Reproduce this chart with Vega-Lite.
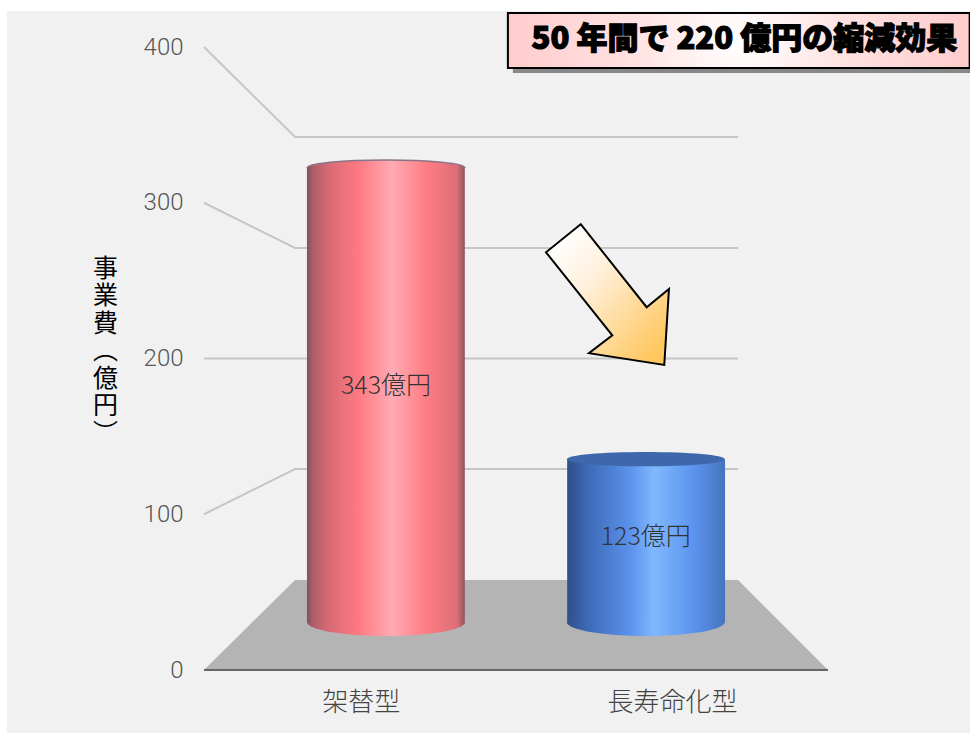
{
  "$schema": "https://vega.github.io/schema/vega-lite/v6.json",
  "width": 624,
  "height": 623,
  "autosize": "none",
  "padding": {"left": 204, "right": 142, "top": 47, "bottom": 63},
  "background": "white",
  "config": {"view": {"stroke": null}, "text": {"font": "Noto Sans CJK JP"}},
  "datasets": {
    "cylinders": [
      {"type": "架替型", "value": 343, "label": "343億円", "center": 29.17, "left": 16.5, "right": 41.8, "labelAt": 178, "axisPos": 25.2},
      {"type": "長寿命化型", "value": 123, "label": "123億円", "center": 70.8, "left": 58.2, "right": 83.5, "labelAt": 64, "axisPos": 75.1}
    ],
    "wallLines": [
      {"tick": 400, "depth": 0, "level": 400},
      {"tick": 400, "depth": 14.6, "level": 342.2},
      {"tick": 400, "depth": 85.6, "level": 342.2},
      {"tick": 300, "depth": 0, "level": 300},
      {"tick": 300, "depth": 14.6, "level": 271},
      {"tick": 300, "depth": 85.6, "level": 271},
      {"tick": 200, "depth": 0, "level": 200},
      {"tick": 200, "depth": 85.6, "level": 200},
      {"tick": 100, "depth": 0, "level": 100},
      {"tick": 100, "depth": 14.6, "level": 129},
      {"tick": 100, "depth": 85.6, "level": 129}
    ],
    "floor": [
      {"depth": 0, "level": 0},
      {"depth": 14.6, "level": 57.8},
      {"depth": 85.6, "level": 57.8},
      {"depth": 100, "level": 0}
    ]
  },
  "resolve": {"scale": {"y": "independent"}},
  "layer": [
    {
      "layer": [
        {
          "description": "Grey panel behind the chart, carrying the value axis",
          "data": {"values": [{}]},
          "mark": {"type": "rect", "fill": "#f1f1f1"},
          "encoding": {
            "x": {"datum": -31.6, "type": "quantitative", "scale": {"domain": [0, 100], "nice": false, "zero": false}, "axis": null},
            "x2": {"datum": 122.8},
            "y": {
              "datum": 423.1,
              "type": "quantitative",
              "scale": {"domain": [0, 400], "nice": false, "zero": false},
              "axis": {
                "zindex": 1,
                "values": [0, 100, 200, 300, 400],
                "domain": false,
                "ticks": false,
                "grid": false,
                "labelFont": "Roboto",
                "labelFontWeight": 300,
                "labelFontSize": 24,
                "labelColor": "#555555",
                "labelPadding": 21,
                "labelBaseline": "middle",
                "title": ["事", "業", "費", "︵", "億", "円", "︶"],
                "titleFont": "Noto Sans CJK JP",
                "titleFontSize": 25,
                "titleFontWeight": "normal",
                "titleColor": "#000000",
                "titleAngle": 0,
                "titleLineHeight": 27.5,
                "titleAlign": "center",
                "titleBaseline": "top",
                "titleX": -99,
                "titleY": 209
              }
            },
            "y2": {"datum": -40.45}
          }
        },
        {
          "description": "Floor of the 3D stage",
          "data": {"name": "floor"},
          "mark": {"type": "area", "fill": "#b4b4b4", "opacity": 1},
          "encoding": {
            "x": {"field": "depth", "type": "quantitative"},
            "y": {"field": "level", "type": "quantitative"},
            "y2": {"datum": 0}
          }
        },
        {
          "description": "Front edge of the floor",
          "data": {"values": [{}]},
          "mark": {"type": "rule", "stroke": "#666666", "strokeWidth": 2},
          "encoding": {
            "x": {"datum": 0, "type": "quantitative"},
            "x2": {"datum": 100},
            "y": {"datum": 0, "type": "quantitative"}
          }
        },
        {
          "description": "Grid lines running over the side and back walls",
          "data": {"name": "wallLines"},
          "mark": {"type": "line", "stroke": "#c6c6c6", "strokeWidth": 2},
          "encoding": {
            "x": {"field": "depth", "type": "quantitative"},
            "y": {"field": "level", "type": "quantitative"},
            "detail": {"field": "tick"}
          }
        },
        {
          "description": "Category names under the floor",
          "data": {"name": "cylinders"},
          "mark": {"type": "text", "fontSize": 26, "fontWeight": 300, "fill": "#444444", "baseline": "middle"},
          "encoding": {
            "x": {"field": "axisPos", "type": "quantitative"},
            "y": {"datum": -21.2, "type": "quantitative"},
            "text": {"field": "type"}
          }
        },
        {
          "description": "Callout shadow",
          "data": {"values": [{}]},
          "mark": {"type": "rect", "fill": "#888888"},
          "encoding": {
            "x": {"datum": 49.5, "type": "quantitative"},
            "x2": {"datum": 123},
            "y": {"datum": 418, "type": "quantitative"},
            "y2": {"datum": 383.3}
          }
        },
        {
          "description": "Callout box",
          "data": {"values": [{}]},
          "mark": {
            "type": "rect",
            "stroke": "#000000",
            "strokeWidth": 2,
            "fill": {
              "gradient": "radial",
              "x1": 0.5, "y1": 0.5, "x2": 0.5, "y2": 0.5, "r1": 0, "r2": 0.5,
              "stops": [
                {"offset": 0, "color": "#ffffff"},
                {"offset": 0.5, "color": "#ffe0e0"},
                {"offset": 1, "color": "#ffcccc"}
              ]
            }
          },
          "encoding": {
            "x": {"datum": 48.7, "type": "quantitative"},
            "x2": {"datum": 122.7},
            "y": {"datum": 421.8, "type": "quantitative"},
            "y2": {"datum": 386.5}
          }
        },
        {
          "description": "Callout text",
          "data": {"values": [{"note": "50 年間で 220 億円の縮減効果"}]},
          "mark": {"type": "text", "fontSize": 31, "fontWeight": 900, "fill": "#000000", "stroke": "#000000", "strokeWidth": 1.2, "baseline": "middle"},
          "encoding": {
            "x": {"datum": 86.6, "type": "quantitative"},
            "y": {"datum": 404.5, "type": "quantitative"},
            "text": {"field": "note"}
          }
        },
        {
          "description": "Arrow pointing down towards the smaller cylinder",
          "data": {"values": [{}]},
          "mark": {
            "type": "point",
            "shape": "M-0.377,-0.996 L-0.866,-0.601 L0.068,0.568 L-0.261,0.821 L0.8,0.986 L0.866,-0.085 L0.552,0.173 Z",
            "size": 20164,
            "filled": true,
            "opacity": 1,
            "stroke": "#000000",
            "strokeWidth": 2,
            "fill": {
              "gradient": "linear",
              "x1": 0.1, "y1": 0.1, "x2": 0.9, "y2": 0.9,
              "stops": [
                {"offset": 0, "color": "#ffffff"},
                {"offset": 0.35, "color": "#fff0dc"},
                {"offset": 1, "color": "#ffc75f"}
              ]
            }
          },
          "encoding": {
            "x": {"datum": 64.66, "type": "quantitative"},
            "y": {"datum": 240.8, "type": "quantitative"}
          }
        }
      ]
    },
    {
      "data": {"name": "cylinders"},
      "layer": [
        {
          "description": "Red cylinder: base, body and cap share one horizontal shading",
          "transform": [{"filter": "datum.value > 200"}],
          "layer": [
            {
              "mark": {
                "type": "point",
                "shape": "M-1,0 C-1,0.098 -0.552,0.177 0,0.177 C0.552,0.177 1,0.098 1,0 L-1,0 Z",
                "size": 24964,
                "filled": true,
                "opacity": 1,
                "fill": {
                  "gradient": "linear", "x1": 0, "y1": 0, "x2": 1, "y2": 0,
                  "stops": [
                    {"offset": 0, "color": "#84505f"},
                    {"offset": 0.04, "color": "#b05e6a"},
                    {"offset": 0.14, "color": "#d96a75"},
                    {"offset": 0.33, "color": "#ff7a82"},
                    {"offset": 0.54, "color": "#ffabb4"},
                    {"offset": 0.75, "color": "#ff7d85"},
                    {"offset": 0.95, "color": "#dd6e76"},
                    {"offset": 1, "color": "#8e5660"}
                  ]
                }
              },
              "encoding": {
                "x": {"field": "center", "type": "quantitative"},
                "y": {"datum": 0, "type": "quantitative", "scale": {"domain": [-36.25, 434.3], "nice": false, "zero": false}, "axis": null}
              }
            },
            {
              "mark": {
                "type": "rect",
                "fill": {
                  "gradient": "linear", "x1": 0, "y1": 0, "x2": 1, "y2": 0,
                  "stops": [
                    {"offset": 0, "color": "#84505f"},
                    {"offset": 0.04, "color": "#b05e6a"},
                    {"offset": 0.14, "color": "#d96a75"},
                    {"offset": 0.33, "color": "#ff7a82"},
                    {"offset": 0.54, "color": "#ffabb4"},
                    {"offset": 0.75, "color": "#ff7d85"},
                    {"offset": 0.95, "color": "#dd6e76"},
                    {"offset": 1, "color": "#8e5660"}
                  ]
                }
              },
              "encoding": {
                "x": {"field": "left", "type": "quantitative"},
                "x2": {"field": "right"},
                "y": {"field": "value", "type": "quantitative"},
                "y2": {"datum": 0}
              }
            },
            {
              "mark": {
                "type": "point",
                "shape": "M-1,0 C-1,-0.056 -0.552,-0.101 0,-0.101 C0.552,-0.101 1,-0.056 1,0 L-1,0 Z",
                "size": 24964,
                "filled": true,
                "opacity": 1,
                "fill": {
                  "gradient": "linear", "x1": 0, "y1": 0, "x2": 1, "y2": 0,
                  "stops": [
                    {"offset": 0, "color": "#84505f"},
                    {"offset": 0.04, "color": "#b05e6a"},
                    {"offset": 0.14, "color": "#d96a75"},
                    {"offset": 0.33, "color": "#ff7a82"},
                    {"offset": 0.54, "color": "#ffabb4"},
                    {"offset": 0.75, "color": "#ff7d85"},
                    {"offset": 0.95, "color": "#dd6e76"},
                    {"offset": 1, "color": "#8e5660"}
                  ]
                }
              },
              "encoding": {
                "x": {"field": "center", "type": "quantitative"},
                "y": {"field": "value", "type": "quantitative"}
              }
            },
            {
              "mark": {
                "type": "point",
                "shape": "M-1,0 C-1,-0.056 -0.552,-0.101 0,-0.101 C0.552,-0.101 1,-0.056 1,0",
                "size": 24964,
                "filled": false,
                "opacity": 1,
                "stroke": "#8a7488",
                "strokeWidth": 1.5
              },
              "encoding": {
                "x": {"field": "center", "type": "quantitative"},
                "y": {"field": "value", "type": "quantitative"}
              }
            }
          ]
        },
        {
          "description": "Blue cylinder: shaded body with a flat dark cap",
          "transform": [{"filter": "datum.value < 200"}],
          "layer": [
            {
              "mark": {
                "type": "point",
                "shape": "M-1,0 C-1,0.098 -0.552,0.177 0,0.177 C0.552,0.177 1,0.098 1,0 L-1,0 Z",
                "size": 24964,
                "filled": true,
                "opacity": 1,
                "fill": {
                  "gradient": "linear", "x1": 0, "y1": 0, "x2": 1, "y2": 0,
                  "stops": [
                    {"offset": 0, "color": "#2f4f86"},
                    {"offset": 0.12, "color": "#3c68b4"},
                    {"offset": 0.4, "color": "#5b92ec"},
                    {"offset": 0.55, "color": "#80b8ff"},
                    {"offset": 0.8, "color": "#5c94ee"},
                    {"offset": 1, "color": "#4674c0"}
                  ]
                }
              },
              "encoding": {
                "x": {"field": "center", "type": "quantitative"},
                "y": {"datum": 0, "type": "quantitative"}
              }
            },
            {
              "mark": {
                "type": "rect",
                "fill": {
                  "gradient": "linear", "x1": 0, "y1": 0, "x2": 1, "y2": 0,
                  "stops": [
                    {"offset": 0, "color": "#2f4f86"},
                    {"offset": 0.12, "color": "#3c68b4"},
                    {"offset": 0.4, "color": "#5b92ec"},
                    {"offset": 0.55, "color": "#80b8ff"},
                    {"offset": 0.8, "color": "#5c94ee"},
                    {"offset": 1, "color": "#4674c0"}
                  ]
                }
              },
              "encoding": {
                "x": {"field": "left", "type": "quantitative"},
                "x2": {"field": "right"},
                "y": {"field": "value", "type": "quantitative"},
                "y2": {"datum": 0}
              }
            },
            {
              "mark": {
                "type": "point",
                "shape": "M-1,0 C-1,-0.05 -0.552,-0.09 0,-0.09 C0.552,-0.09 1,-0.05 1,0 C1,0.05 0.552,0.09 0,0.09 C-0.552,0.09 -1,0.05 -1,0 Z",
                "size": 24964,
                "filled": true,
                "opacity": 1,
                "fill": "#3f68ac"
              },
              "encoding": {
                "x": {"field": "center", "type": "quantitative"},
                "y": {"field": "value", "type": "quantitative"}
              }
            }
          ]
        },
        {
          "description": "Value printed on each cylinder",
          "mark": {"type": "text", "fontSize": 25, "fontWeight": 300, "fill": "#333333", "baseline": "middle"},
          "encoding": {
            "x": {"field": "center", "type": "quantitative"},
            "y": {"field": "labelAt", "type": "quantitative"},
            "text": {"field": "label"}
          }
        }
      ]
    }
  ]
}
